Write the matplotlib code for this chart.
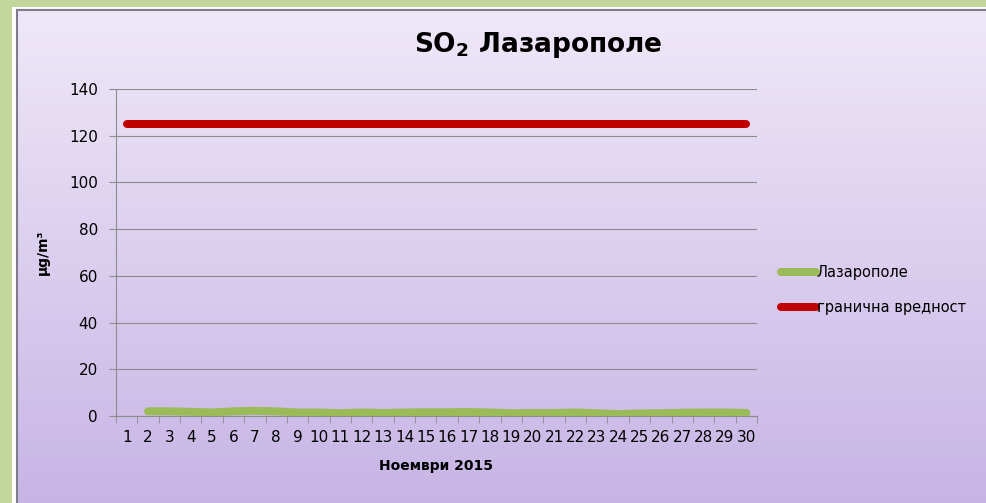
import numpy as np
import matplotlib.pyplot as plt
from matplotlib.patches import Rectangle

days = list(range(1, 31))
lazaropole_days = list(range(2, 31))
lazaropole = [2.0, 2.0, 1.8, 1.5, 2.0, 2.2, 2.0, 1.5, 1.5, 1.2, 1.5, 1.3, 1.5, 1.6,
              1.6, 1.7, 1.5, 1.2, 1.3, 1.3, 1.5, 1.2, 0.8, 1.1, 1.2, 1.4, 1.5, 1.5, 1.3]
limit = [125] * 30
yticks = [0, 20, 40, 60, 80, 100, 120, 140]

plt.rcParams['font.family'] = ['DejaVu Sans']

W, H = 987, 503
fig = plt.figure(figsize=(W / 100, H / 100), dpi=100)
fig.patch.set_facecolor('#c3d69b')

# white strip + chart frame with gradient
fig.patches.append(Rectangle((12 / W, 0), 1, 1 - 7 / H, transform=fig.transFigure,
                             facecolor='white', edgecolor='none', zorder=-5))
bg = fig.add_axes([17 / W, 0, 1 - 17 / W + 0.01, 1 - 10 / H], zorder=0)
grad = np.linspace(0, 1, 256).reshape(-1, 1)
top = np.array([0.937, 0.910, 0.973])
bot = np.array([0.780, 0.710, 0.898])
img = top + (bot - top) * grad[:, :, None]
bg.imshow(img, aspect='auto', extent=[0, 1, 0, 1], origin='upper')
bg.set_xlim(0, 1)
bg.set_ylim(0, 1)
bg.set_xticks([])
bg.set_yticks([])
for s in ['right', 'bottom']:
    bg.spines[s].set_visible(False)
for s in ['left', 'top']:
    bg.spines[s].set_color('#7f7a8c')
    bg.spines[s].set_linewidth(1.5)

ax = fig.add_axes([116 / W, 87 / H, 641 / W, 327 / H], zorder=1)
ax.patch.set_alpha(0)

lw = 8 * 72 / 100
ax.plot(lazaropole_days, lazaropole, color='#9bbb59', lw=lw, solid_capstyle='round',
        solid_joinstyle='round', label='Лазарополе', zorder=3)
ax.plot(days, limit, color='#c00000', lw=lw, solid_capstyle='round',
        label='гранична вредност', zorder=3)

ax.set_xlim(0.5, 30.5)
ax.set_ylim(0, 140)
ax.set_yticks(yticks)
ax.set_xticks(days)
ax.set_xticklabels([str(d) for d in days], fontsize=11)
ax.set_xticks(np.arange(0.5, 31, 1), minor=True)
ax.tick_params(axis='x', which='major', length=0, pad=10)
ax.tick_params(axis='x', which='minor', length=5, color='#8c8c8c')
ax.tick_params(axis='y', length=5, color='#8c8c8c', labelsize=11, pad=8)
ax.grid(axis='y', color='#8c8c8c', lw=0.8)
ax.set_axisbelow(True)
for s in ['top', 'right']:
    ax.spines[s].set_visible(False)
for s in ['left', 'bottom']:
    ax.spines[s].set_color('#8c8c8c')
    ax.spines[s].set_linewidth(0.8)

ax.set_xlabel('Ноември 2015', fontsize=10, fontweight='bold', labelpad=10)
ax.set_ylabel('μg/m³', fontsize=10, fontweight='bold', labelpad=14)

fig.text(538 / W, 1 - 45 / H, r'SO$_\mathregular{2}$ Лазарополе', fontsize=19,
         fontweight='bold', ha='center', va='center')

fig.legend(loc='center left', bbox_to_anchor=(768 / W, 1 - 290 / H), frameon=False,
           handlelength=2.4, handletextpad=0.05, labelspacing=1.4, fontsize=10.5)

plt.savefig('out.png', dpi=100)
